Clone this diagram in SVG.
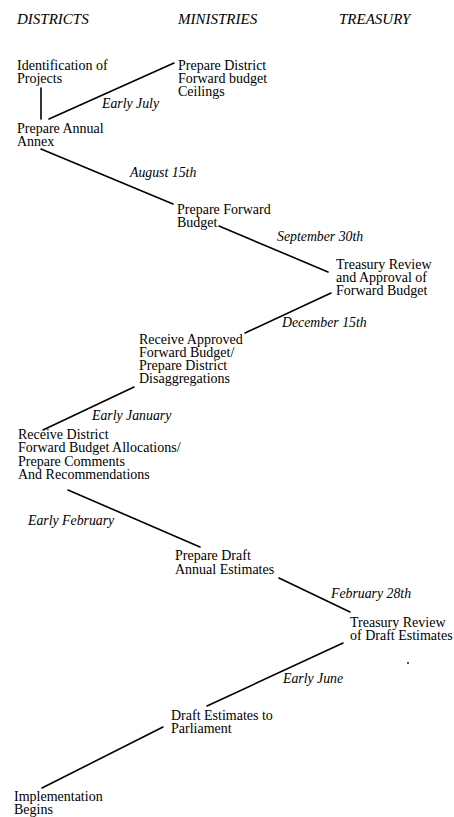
<svg xmlns="http://www.w3.org/2000/svg" width="454" height="817" viewBox="0 0 454 817">
<style>
text{font-family:"Liberation Serif","Times New Roman",serif;fill:#000}
.n{font-size:14px}
.h{font-size:15px;font-style:italic}
.d{font-size:13.8px;font-style:italic}
.c line{stroke:#000;stroke-width:1.6;stroke-linecap:round}
</style>
<rect width="454" height="817" fill="#fff"/>
<g id="headers">
<text class="h" x="17" y="24">DISTRICTS</text>
<text class="h" x="178" y="24">MINISTRIES</text>
<text class="h" x="339" y="24">TREASURY</text>
</g>
<g id="connectors" class="c">
<line x1="41" y1="88" x2="41" y2="119"/>
<line x1="49" y1="119" x2="174" y2="63"/>
<line x1="41" y1="149" x2="173" y2="204"/>
<line x1="219" y1="226" x2="328" y2="272"/>
<line x1="331" y1="293" x2="245" y2="333"/>
<line x1="134" y1="387" x2="43" y2="430"/>
<line x1="68" y1="490" x2="200" y2="547"/>
<line x1="279" y1="578" x2="350" y2="612"/>
<line x1="343" y1="643" x2="207" y2="706"/>
<line x1="163" y1="727" x2="42" y2="788"/>
<text class="d" x="102" y="108">Early July</text>
<text class="d" x="130" y="177">August 15th</text>
<text class="d" x="277" y="241">September 30th</text>
<text class="d" x="282" y="327">December 15th</text>
<text class="d" x="92" y="420">Early January</text>
<text class="d" x="28" y="525">Early February</text>
<text class="d" x="331" y="598">February 28th</text>
<text class="d" x="283" y="683">Early June</text>
</g>
<g id="identification"><text class="n" x="17" y="69.5">Identification of<tspan x="17" dy="13.2">Projects</tspan></text></g>
<g id="ceilings"><text class="n" x="178" y="69.5">Prepare District<tspan x="178" dy="13.2">Forward budget</tspan><tspan x="178" dy="13.2">Ceilings</tspan></text></g>
<g id="annex"><text class="n" x="17" y="133">Prepare Annual<tspan x="17" dy="13.2">Annex</tspan></text></g>
<g id="forward"><text class="n" x="177" y="213.5">Prepare Forward<tspan x="177" dy="13.2">Budget</tspan></text></g>
<g id="treasury1"><text class="n" x="336" y="268.5">Treasury Review<tspan x="336" dy="13.4">and Approval of</tspan><tspan x="336" dy="13.4">Forward Budget</tspan></text></g>
<g id="receive-approved"><text class="n" x="139" y="343.5">Receive Approved<tspan x="139" dy="13.3">Forward Budget/</tspan><tspan x="139" dy="13.3">Prepare District</tspan><tspan x="139" dy="13.3">Disaggregations</tspan></text></g>
<g id="receive-district"><text class="n" x="18" y="439">Receive District<tspan x="18" dy="13.3">Forward Budget Allocations/</tspan><tspan x="18" dy="13.3">Prepare Comments</tspan><tspan x="18" dy="13.3">And Recommendations</tspan></text></g>
<g id="draft"><text class="n" x="175" y="560">Prepare Draft<tspan x="175" dy="13.5">Annual Estimates</tspan></text></g>
<g id="treasury2"><text class="n" x="350" y="627">Treasury Review<tspan x="350" dy="13.2">of Draft Estimates</tspan></text></g>
<g id="parliament"><text class="n" x="171" y="720">Draft Estimates to<tspan x="171" dy="13.2">Parliament</tspan></text></g>
<g id="implementation"><text class="n" x="14" y="801">Implementation<tspan x="14" dy="13">Begins</tspan></text></g>
<circle cx="408" cy="663" r="0.9" fill="#000"/>
</svg>
